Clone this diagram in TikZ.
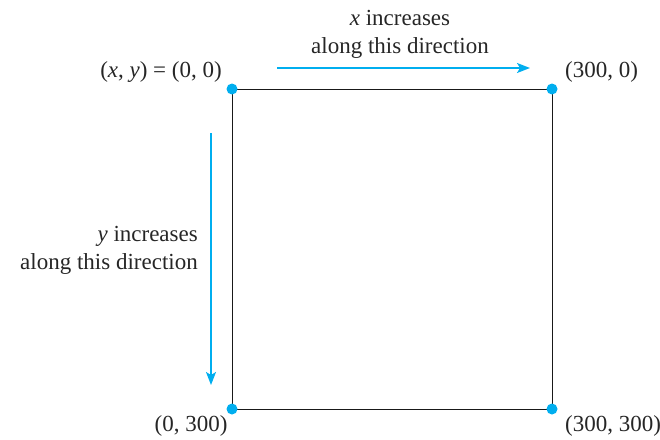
\documentclass[tikz,border=0pt]{standalone}
\usepackage{fontspec}
\setmainfont{Liberation Serif}
\usetikzlibrary{arrows.meta}
\definecolor{cy}{RGB}{0,174,239}
\begin{document}
\begin{tikzpicture}[x=1pt,y=-1pt,
  lbl/.style={font=\fontsize{23}{28}\selectfont, text=black!85, inner sep=0pt},
  dot/.style={circle, fill=cy, inner sep=0pt, minimum size=11pt},
  dirarrow/.style={cy, line width=1.6pt, -{Stealth[length=13pt,width=10pt,inset=3pt]}}]
\useasboundingbox (0,0) rectangle (660,439);
\draw[line width=1pt, black!90] (232,89) rectangle (552,409);
\node[dot] (tl) at (232,89) {};
\node[dot] (tr) at (552,89) {};
\node[dot] (bl) at (232,409) {};
\node[dot] (br) at (552,409) {};
\node[lbl, anchor=east] (ltl) at (222,72) {(\textit{x}, \textit{y}) = (0, 0)};
\node[lbl, anchor=west] (ltr) at (565,72) {(300, 0)};
\node[lbl, anchor=center] (lbl2) at (191,426) {(0, 300)};
\node[lbl, anchor=west] (lbr) at (565,426) {(300, 300)};
\node[lbl, align=center] (xt) at (400,34) {\textit{x} increases\\along this direction};
\node[lbl, align=right, anchor=east] (yt) at (198,250) {\textit{y} increases\\along this direction};
\coordinate (hs) at (277,68);
\coordinate (he) at (530,68);
\coordinate (vs) at (211,133);
\coordinate (ve) at (211,385);
\draw[dirarrow] (hs) -- (he);
\draw[dirarrow] (vs) -- (ve);
\end{tikzpicture}
\end{document}
